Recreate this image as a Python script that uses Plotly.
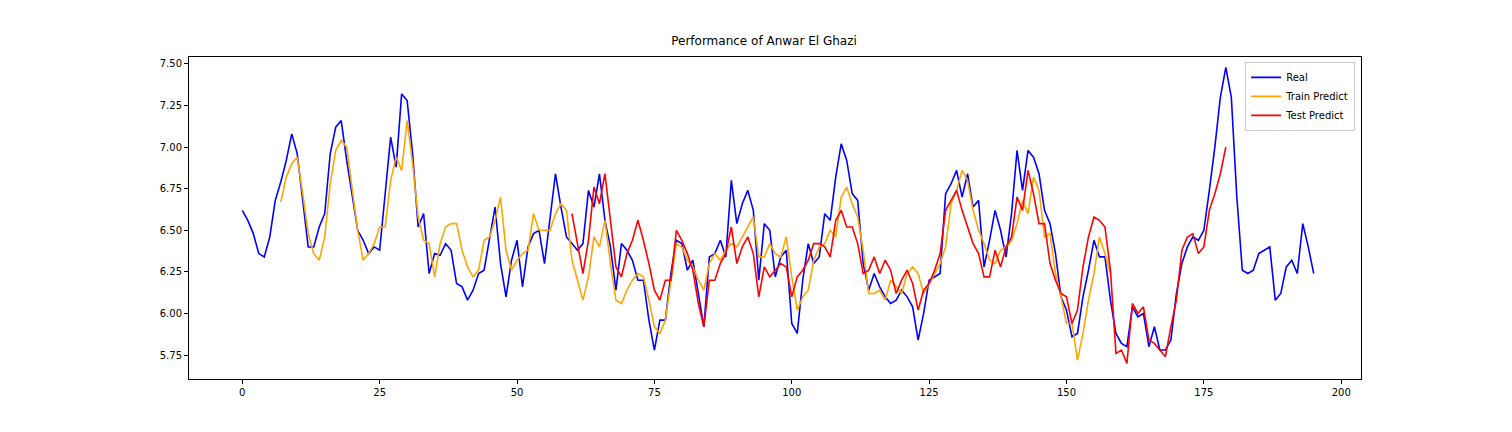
import plotly.graph_objects as go

real = [6.62, 6.56, 6.48, 6.36, 6.34, 6.46, 6.68, 6.79, 6.92, 7.08, 6.96, 6.66, 6.40, 6.40, 6.52, 6.60,
        6.96, 7.12, 7.16, 6.92, 6.72, 6.50, 6.44, 6.36, 6.40, 6.38, 6.72, 7.06, 6.88, 7.32, 7.28, 6.96,
        6.52, 6.60, 6.24, 6.36, 6.35, 6.42, 6.38, 6.18, 6.16, 6.08, 6.14, 6.24, 6.26, 6.44, 6.64, 6.30,
        6.10, 6.32, 6.44, 6.16, 6.40, 6.48, 6.50, 6.30, 6.56, 6.84, 6.64, 6.46, 6.42, 6.38, 6.42, 6.74,
        6.64, 6.84, 6.56, 6.40, 6.14, 6.42, 6.38, 6.32, 6.20, 6.20, 5.96, 5.78, 5.96, 5.96, 6.24, 6.44,
        6.42, 6.26, 6.32, 6.12, 5.92, 6.34, 6.36, 6.44, 6.34, 6.80, 6.54, 6.66, 6.74, 6.62, 6.20, 6.54,
        6.50, 6.22, 6.34, 6.38, 5.94, 5.88, 6.20, 6.42, 6.30, 6.34, 6.60, 6.56, 6.82, 7.02, 6.92, 6.72,
        6.68, 6.30, 6.14, 6.24, 6.16, 6.10, 6.06, 6.08, 6.14, 6.10, 6.04, 5.84, 6.00, 6.20, 6.22, 6.24,
        6.72, 6.78, 6.86, 6.70, 6.84, 6.64, 6.68, 6.28, 6.44, 6.62, 6.50, 6.34, 6.60, 6.98, 6.74, 6.98,
        6.94, 6.84, 6.62, 6.54, 6.36, 6.10, 6.02, 5.86, 5.88, 6.10, 6.26, 6.44, 6.34, 6.34, 6.08, 5.88,
        5.82, 5.80, 6.04, 5.98, 6.00, 5.80, 5.92, 5.78, 5.78, 5.84, 6.12, 6.30, 6.40, 6.46, 6.44, 6.50,
        6.74, 7.00, 7.30, 7.48, 7.30, 6.70, 6.26, 6.24, 6.26, 6.36, 6.38, 6.40, 6.08, 6.12, 6.28, 6.32,
        6.24, 6.54, 6.40, 6.24]

train_start = 7
train = [6.67, 6.82, 6.90, 6.94, 6.72, 6.48, 6.36, 6.32, 6.46, 6.78, 6.98, 7.04, 7.00, 6.76, 6.50, 6.32,
         6.36, 6.42, 6.52, 6.52, 6.80, 6.94, 6.86, 7.16, 6.90, 6.58, 6.44, 6.42, 6.22, 6.42, 6.52, 6.54,
         6.54, 6.38, 6.28, 6.22, 6.26, 6.44, 6.46, 6.56, 6.70, 6.38, 6.26, 6.32, 6.36, 6.38, 6.60, 6.50,
         6.50, 6.50, 6.60, 6.66, 6.62, 6.32, 6.20, 6.08, 6.22, 6.46, 6.40, 6.56, 6.30, 6.08, 6.06, 6.14,
         6.20, 6.24, 6.22, 6.08, 5.92, 5.88, 5.96, 6.20, 6.42, 6.40, 6.32, 6.28, 6.20, 6.14, 6.30, 6.36,
         6.32, 6.38, 6.42, 6.40, 6.46, 6.52, 6.58, 6.34, 6.34, 6.42, 6.36, 6.34, 6.46, 6.22, 6.02, 6.10,
         6.14, 6.32, 6.40, 6.42, 6.50, 6.46, 6.70, 6.76, 6.66, 6.58, 6.38, 6.12, 6.12, 6.14, 6.08, 6.20,
         6.16, 6.12, 6.24, 6.28, 6.24, 6.12, 6.18, 6.24, 6.30, 6.40, 6.66, 6.74, 6.86, 6.80, 6.62, 6.50,
         6.42, 6.32, 6.30, 6.38, 6.40, 6.44, 6.54, 6.68, 6.60, 6.82, 6.74, 6.46, 6.48, 6.24, 6.10, 5.94,
         5.94, 5.72, 5.88, 6.08, 6.24, 6.46, 6.36, 6.24]

test_start = 60
test = [6.60, 6.42, 6.24, 6.44, 6.76, 6.66, 6.84, 6.56, 6.28, 6.22, 6.36, 6.44, 6.56, 6.44, 6.30, 6.14,
        6.08, 6.20, 6.20, 6.50, 6.44, 6.36, 6.26, 6.06, 5.92, 6.20, 6.20, 6.30, 6.36, 6.52, 6.30, 6.40,
        6.46, 6.36, 6.10, 6.28, 6.22, 6.26, 6.30, 6.28, 6.10, 6.22, 6.26, 6.32, 6.42, 6.42, 6.40, 6.34,
        6.56, 6.62, 6.52, 6.52, 6.42, 6.24, 6.26, 6.34, 6.24, 6.32, 6.26, 6.12, 6.20, 6.26, 6.18, 6.02,
        6.14, 6.18, 6.26, 6.36, 6.62, 6.68, 6.74, 6.62, 6.52, 6.42, 6.36, 6.22, 6.22, 6.38, 6.28, 6.40,
        6.46, 6.70, 6.62, 6.86, 6.72, 6.54, 6.54, 6.30, 6.20, 6.12, 6.10, 5.94, 6.02, 6.28, 6.46, 6.58,
        6.56, 6.52, 6.26, 5.76, 5.78, 5.70, 6.06, 6.00, 6.04, 5.84, 5.82, 5.78, 5.74, 5.92, 6.08, 6.38,
        6.46, 6.48, 6.36, 6.40, 6.62, 6.72, 6.84, 7.00]

fig = go.Figure()
fig.add_trace(go.Scatter(x=list(range(len(real))), y=real, mode="lines", name="Real",
                         line=dict(color="blue", width=1.6)))
fig.add_trace(go.Scatter(x=list(range(train_start, train_start + len(train))), y=train, mode="lines",
                         name="Train Predict", line=dict(color="orange", width=1.6)))
fig.add_trace(go.Scatter(x=list(range(test_start, test_start + len(test))), y=test, mode="lines",
                         name="Test Predict", line=dict(color="red", width=1.6)))

axis = dict(showgrid=False, zeroline=False, showline=True, linecolor="black", linewidth=1,
            mirror=True, ticks="outside", ticklen=4, tickcolor="black")
fig.update_layout(
    width=1512, height=432, plot_bgcolor="white", paper_bgcolor="white",
    margin=dict(l=181, r=159, t=49, b=61),
    font=dict(family="DejaVu Sans", size=10, color="black"),
    title=dict(text="Performance of Anwar El Ghazi", x=0.5, xanchor="center", y=0.915, yanchor="bottom",
               font=dict(size=12)),
    xaxis=dict(axis, range=[-9.7, 203.6], tickvals=[0, 25, 50, 75, 100, 125, 150, 175, 200]),
    yaxis=dict(axis, range=[5.606, 7.542], tickvals=[5.75, 6.0, 6.25, 6.5, 6.75, 7.0, 7.25, 7.5],
               tickformat=".2f"),
    legend=dict(x=0.995, y=0.985, xanchor="right", yanchor="top", bordercolor="#cccccc", borderwidth=1,
                bgcolor="rgba(255,255,255,0.8)", font=dict(size=10), tracegroupgap=0),
    showlegend=True,
)
fig.write_html("out.html")
